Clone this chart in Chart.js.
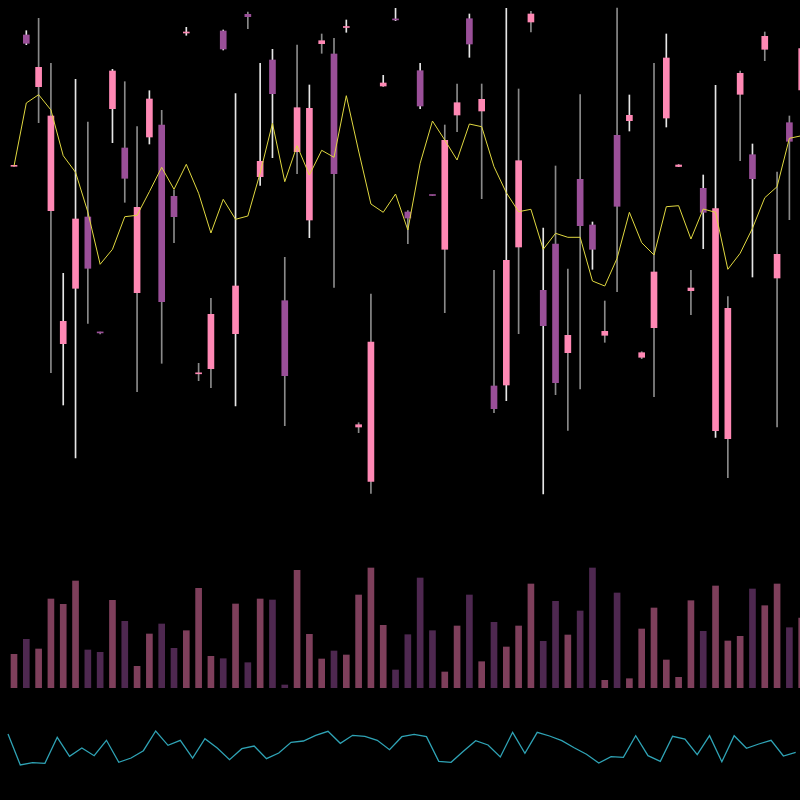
<!DOCTYPE html>
<html>
<head>
<meta charset="utf-8">
<script src="https://cdn.jsdelivr.net/npm/chart.js@4/dist/chart.umd.min.js"></script>
<style>
  html, body { margin: 0; padding: 0; background: #000; }
  #wrap { width: 800px; height: 800px; }
</style>
</head>
<body>
<div id="wrap"><canvas id="chart"></canvas></div>
<script>
// candle data (price units), one entry per session
var opens = [133.37, 146.5, 141.33, 128.93, 115.63, 121.17, 128.3, 116.74, 139.13, 135.2,
  120.73, 136.3, 137.5, 130.37, 146.7, 112.62, 113.13, 146.9, 116.63, 148.57,
  132.33, 144, 119.93, 134.83, 128, 145.63, 144.6, 147.25, 107.3, 101.87,
  141.4, 148.05, 128.8, 142.93, 130.48, 125.07, 138.5, 148.13, 138.9, 111.4,
  111.5, 125.3, 147.8, 120.97, 125.6, 114.73, 132.07, 127.5, 116.47, 136.47,
  137.93, 114.27, 117.23, 138.2, 133.35, 120.93, 131.17, 106.93, 106.13, 140.57,
  134.53, 145.07, 122.2, 137.73, 141];
var closes = [133.43, 145.67, 143.27, 138.4, 117.87, 128.1, 123.17, 116.71, 142.9, 132.17,
  129.27, 140.1, 119.83, 128.33, 146.77, 112.72, 118.57, 145.1, 121.4, 148.33,
  133.87, 140.63, 112.43, 139.23, 139.17, 145.93, 132.63, 147.29, 107.53, 115.8,
  141.7, 148.01, 128.2, 139.4, 130.45, 135.97, 139.73, 145.6, 140.07, 109.13,
  123.97, 133.93, 148.6, 117.43, 111.73, 116.47, 127.43, 125.07, 116.87, 129.37,
  138.47, 114.73, 122.8, 144.2, 133.5, 121.2, 128.77, 129.13, 119.17, 142.67,
  132.13, 146.37, 124.57, 135.87, 145.13];
var highs = [133.45, 146.93, 148.17, 143.67, 122.67, 142.07, 137.8, 116.8, 143.07, 141.83,
  137.33, 140.93, 138.97, 131, 147.27, 113.67, 120.17, 147, 140.63, 148.8,
  143.67, 145.07, 124.27, 145.5, 141.5, 146.6, 146.17, 148, 107.73, 120.6,
  142.47, 149.17, 128.93, 143.67, 130.48, 137.5, 141.6, 148.6, 141.6, 122.97,
  149.17, 141.1, 148.87, 127.2, 133.4, 123.1, 140.53, 127.8, 119.9, 149.2,
  140.5, 114.83, 143.67, 146.6, 133.53, 122.97, 132.5, 141.47, 120.33, 142.9,
  135.6, 146.8, 132.8, 138.4, 146];
var lows = [133.35, 145.53, 137.73, 112.73, 109.5, 104.2, 117.67, 116.62, 135.73, 129.77,
  110.83, 135.6, 113.67, 125.73, 146.47, 111.93, 111.23, 145, 109.4, 147.13,
  131.47, 134.23, 107.43, 132.63, 126.23, 144.67, 121.27, 146.77, 106.73, 100.67,
  141.37, 147.93, 125.63, 139.13, 130.45, 118.73, 136.83, 144.27, 130.13, 108.73,
  109.93, 116.63, 146.8, 100.6, 110.53, 106.97, 111.1, 123.07, 115.77, 120.83,
  136.9, 114.13, 110.33, 137.3, 133.33, 118.53, 125.13, 106.27, 102.23, 133.93,
  122.3, 143.93, 107.3, 128.03, 140];

// moving average (yellow)
var avgLine = [133.4, 139.7, 140.53, 139, 134.43, 132.77, 128.8, 123.57, 125.07, 128.33,
  128.47, 130.83, 133.27, 131.07, 133.57, 130.67, 126.7, 130.07, 128.07, 128.4,
  132.7, 137.67, 131.83, 135.43, 132.5, 134.97, 134.27, 140.43, 134.9, 129.6,
  128.77, 130.6, 127, 133.67, 137.9, 136, 134, 137.6, 137.33, 133.33,
  130.73, 128.83, 129.07, 125.07, 126.67, 126.27, 126.27, 121.9, 121.4, 124.17,
  128.77, 125.73, 124.5, 129.33, 129.43, 126.1, 129.1, 128.77, 123.07, 124.67,
  127.17, 130.23, 131.33, 136.17, 136.43];

// volume
var volumes = [3340, 4840, 3870, 8870, 8340, 10670, 3770, 3540, 8740, 6640,
  2140, 5370, 6370, 3940, 5700, 9940, 3140, 2900, 8370, 2500,
  8870, 8770, 270, 11740, 5340, 2870, 3670, 3270, 9270, 11970,
  6240, 1770, 5300, 10970, 5700, 1570, 6170, 9270, 2600, 6540,
  4070, 6170, 10370, 4640, 8640, 5270, 7670, 11970, 740, 9470,
  900, 5870, 7970, 2770, 1040, 8700, 5640, 10170, 4670, 5140,
  9870, 8200, 10370, 6000, 6970];

// oscillator (cyan)
var rsiLine = [72, 10, 14.6, 13.4, 65.4, 27.4, 44, 28.6, 59.4, 15.4,
  24, 38.6, 78, 49.4, 59.4, 24, 62.6, 44, 20.6, 42.6,
  48, 22.6, 34, 55.4, 58, 69.4, 77.4, 53.4, 69.4, 67.4,
  59.4, 40.6, 66.6, 71.4, 66.6, 17.4, 15.4, 37.4, 58.6, 50,
  26, 75.4, 33.4, 75.4, 68, 58.6, 44.6, 31.4, 14, 26.6,
  25.4, 68.6, 28.6, 17.4, 67.4, 62, 30.6, 68.6, 16.6, 68.6,
  43.4, 52, 59.4, 28, 35.4];

// styles
var upColor = '#ff88b4';
var downColor = '#9a4f98';
var volUp = '#7e3f5b';
var volDown = '#4e2850';
var wickTone = 'gwggwwggwggwggwggwwgwwggwggwggwwgwgggwggwggwgggwggwggwwgwwggwg';

var bodies = [], wicks = [], vols = [], avgPts = [], rsiPts = [];
var bodyColors = [], wickColors = [], volColors = [];
for (var i = 0; i < opens.length; i++) {
  var up = closes[i] >= opens[i];
  bodies.push({x: i, y: [opens[i], closes[i]]});
  wicks.push({x: i, y: [lows[i], highs[i]]});
  vols.push({x: i, y: volumes[i]});
  avgPts.push({x: i, y: avgLine[i]});
  rsiPts.push({x: i, y: rsiLine[i]});
  bodyColors.push(up ? upColor : downColor);
  volColors.push(up ? volUp : volDown);
  wickColors.push(wickTone.charAt(i) == 'w' ? '#e6e6e6' : '#8a8a8a');
}

var ctx = document.getElementById('chart').getContext('2d');
var chart = new Chart(ctx, {
  type: 'bar',
  data: {
    datasets: [{
      type: 'line',
      data: avgPts,
      xAxisID: 'x', yAxisID: 'yPrice',
      borderColor: '#e0d840',
      borderWidth: 1,
      pointRadius: 0,
      tension: 0,
      order: 0
    }, {
      type: 'line',
      data: rsiPts,
      xAxisID: 'x2', yAxisID: 'yRsi',
      borderColor: '#2fa3b5',
      borderWidth: 1.3,
      pointRadius: 0,
      tension: 0,
      order: 0
    }, {
      data: bodies,
      xAxisID: 'x', yAxisID: 'yPrice',
      backgroundColor: bodyColors,
      barThickness: 6,
      minBarLength: 1,
      grouped: false,
      order: 1
    }, {
      data: wicks,
      xAxisID: 'x', yAxisID: 'yPrice',
      backgroundColor: wickColors,
      barThickness: 1,
      grouped: false,
      order: 2
    }, {
      data: vols,
      xAxisID: 'x', yAxisID: 'yVol',
      backgroundColor: volColors,
      barThickness: 6,
      grouped: false,
      order: 3
    }]
  },
  options: {
    responsive: true,
    maintainAspectRatio: false,
    animation: false,
    layout: { padding: 0 },
    plugins: { legend: { display: false }, tooltip: { enabled: false } },
    scales: {
      x: { type: 'linear', display: false, offset: false, min: -1.1375, max: 63.8625 },
      x2: { type: 'linear', display: false, offset: false, min: -0.65, max: 64.35 },
      yPrice: { type: 'linear', display: false, beginAtZero: false, min: 70, max: 150 },
      yVol: { type: 'linear', display: false, beginAtZero: false, min: -11230, max: 68770 },
      yRsi: { type: 'linear', display: false, beginAtZero: false, min: -60, max: 1540 }
    }
  }
});
</script>
</body>
</html>
